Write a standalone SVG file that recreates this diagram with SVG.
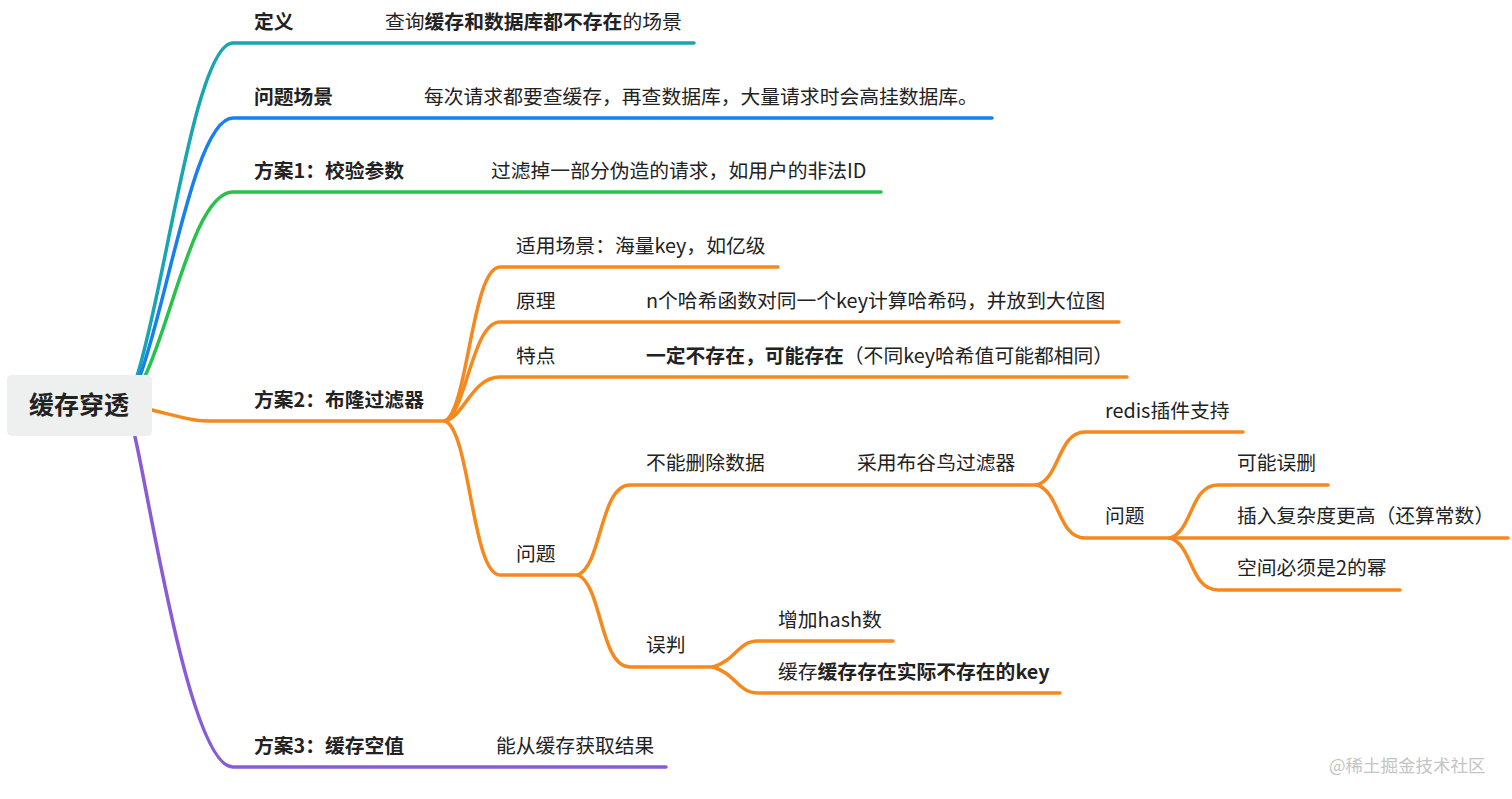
<svg xmlns="http://www.w3.org/2000/svg" width="1512" height="799" viewBox="0 0 1512 799">
<style>
text{font-family:"Noto Sans CJK SC","Noto Sans",sans-serif;font-size:19.8px;fill:#222}
.b{font-weight:bold}
.root{font-size:25px;font-weight:bold;fill:#222}
.c{fill:none;stroke-width:3.5;stroke-linecap:round;stroke-linejoin:round}
.teal{stroke:#17a5b1}.blue{stroke:#1680f0}.green{stroke:#27c24c}.orange{stroke:#f5891e}.purple{stroke:#8a5bd6}
.wm{font-size:17.5px;fill:#c4c4c4}
</style>
<rect width="1512" height="799" fill="#ffffff"/>
<g id="connectors">
<path class="c teal" d="M137,376 C165,290 195,43 233,43 L694,43"/>
<path class="c blue" d="M140,376 C168,300 195,118 233,118 L992,118"/>
<path class="c green" d="M145,376 C172,320 195,192 233,192 L881,192"/>
<path class="c orange" d="M152,410 C185,418 190,421 215,421 L445,421"/>
<path class="c purple" d="M135,437 C150,500 190,767 233,767 L666,767"/>
<path class="c orange" d="M445,421 C468,410 472,267 500,267 L778,267"/>
<path class="c orange" d="M445,421 C466,414 472,322 500,322 L1119,322"/>
<path class="c orange" d="M445,421 C464,417 472,377 500,377 L1127,377"/>
<path class="c orange" d="M445,421 C470,430 472,575 500,575 L578,575"/>
<path class="c orange" d="M578,575 C602,565 600,485 630,485 L1037,485"/>
<path class="c orange" d="M578,575 C602,585 600,667 630,667 L713,667"/>
<path class="c orange" d="M1037,485 C1060,478 1058,432 1085,432 L1243,432"/>
<path class="c orange" d="M1037,485 C1060,492 1058,538 1085,538 L1170,538"/>
<path class="c orange" d="M1170,538 C1193,531 1190,485 1218,485 L1328,485"/>
<path class="c orange" d="M1170,538 L1508,538"/>
<path class="c orange" d="M1170,538 C1193,545 1190,590 1218,590 L1400,590"/>
<path class="c orange" d="M713,667 C736,660 738,641 758,641 L893,641"/>
<path class="c orange" d="M713,667 C736,674 738,693 758,693 L1060,693"/>
</g>
<g id="root">
<rect x="7" y="375" width="145" height="61" rx="5" fill="#eef0ef"/>
<text class="root" x="79" y="414" text-anchor="middle">缓存穿透</text>
</g>
<g id="n-def"><text class="b" x="254" y="29">定义</text></g>
<g id="n-def-c"><text x="385" y="29">查询<tspan class="b">缓存和数据库都不存在</tspan>的场景</text></g>
<g id="n-scene"><text class="b" x="254" y="104">问题场景</text></g>
<g id="n-scene-c"><text x="424" y="104">每次请求都要查缓存，再查数据库，大量请求时会高挂数据库。</text></g>
<g id="n-p1"><text class="b" x="254" y="178">方案1：校验参数</text></g>
<g id="n-p1-c"><text x="491" y="178">过滤掉一部分伪造的请求，如用户的非法ID</text></g>
<g id="n-p2"><text class="b" x="254" y="407">方案2：布隆过滤器</text></g>
<g id="n-use"><text x="516" y="253">适用场景：海量key，如亿级</text></g>
<g id="n-prin"><text x="516" y="308">原理</text></g>
<g id="n-prin-c"><text x="646" y="308">n个哈希函数对同一个key计算哈希码，并放到大位图</text></g>
<g id="n-feat"><text x="516" y="363">特点</text></g>
<g id="n-feat-c"><text x="646" y="363"><tspan class="b">一定不存在，可能存在</tspan>（不同key哈希值可能都相同）</text></g>
<g id="n-prob"><text x="516" y="561">问题</text></g>
<g id="n-nodel"><text x="646" y="470">不能删除数据</text></g>
<g id="n-cuckoo"><text x="857" y="470">采用布谷鸟过滤器</text></g>
<g id="n-redis"><text x="1105" y="418">redis插件支持</text></g>
<g id="n-prob2"><text x="1105" y="523">问题</text></g>
<g id="n-misdel"><text x="1237" y="470">可能误删</text></g>
<g id="n-insert"><text x="1237" y="523">插入复杂度更高（还算常数）</text></g>
<g id="n-space"><text x="1237" y="575">空间必须是2的幂</text></g>
<g id="n-mis"><text x="646" y="652">误判</text></g>
<g id="n-hash"><text x="778" y="627">增加hash数</text></g>
<g id="n-cache"><text x="778" y="679">缓存<tspan class="b">缓存存在实际不存在的key</tspan></text></g>
<g id="n-p3"><text class="b" x="254" y="753">方案3：缓存空值</text></g>
<g id="n-p3-c"><text x="496" y="753">能从缓存获取结果</text></g>
<text class="wm" x="1329" y="772">@稀土掘金技术社区</text>
</svg>
